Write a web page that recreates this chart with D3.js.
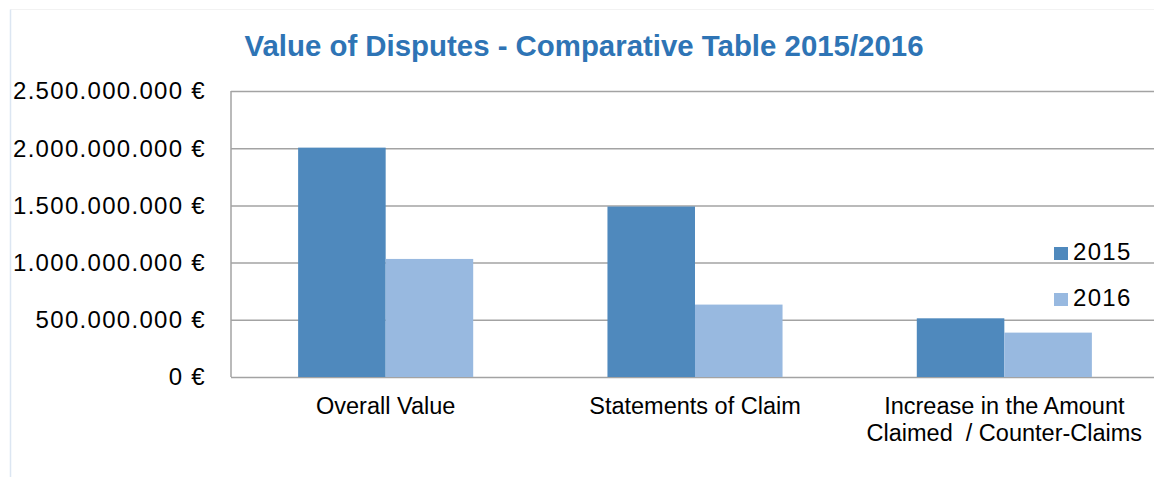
<!DOCTYPE html>
<html>
<head>
<meta charset="utf-8">
<script src="https://cdn.jsdelivr.net/npm/d3@7"></script>
<style>
  body { margin: 0; background: #fff; }
  svg { display: block; font-family: "Liberation Sans", Arial, sans-serif; }
</style>
</head>
<body>
<div id="chart"></div>
<script>
// chart data
const categories = ["Overall Value", "Statements of Claim", "Increase in the Amount\nClaimed  / Counter-Claims"];
const years = ["2015", "2016"];
const values2015 = [2005000000, 1490000000, 513000000];
const values2016 = [1032000000, 633000000, 388000000];
const yTicks = [0, 500000000, 1000000000, 1500000000, 2000000000, 2500000000];

const width = 1154, height = 477;
const colors = { "2015": "#4F89BD", "2016": "#98B9E0" };

const svg = d3.select("#chart").append("svg")
  .attr("width", width)
  .attr("height", height);

// faint chart frame
svg.append("line").attr("x1", 10.5).attr("x2", width).attr("y1", 9.5).attr("y2", 9.5)
  .attr("stroke", "#F2F2F2");
svg.append("line").attr("x1", 10.5).attr("x2", 10.5).attr("y1", 9.5).attr("y2", height)
  .attr("stroke", "#DCE6F2").attr("stroke-width", 1.5);

const plotLeft = 231, plotRight = 1159, plotTop = 91, plotBottom = 377;

const x = d3.scaleBand()
  .domain(categories)
  .range([plotLeft, plotRight])
  .paddingInner(0.434)
  .paddingOuter(0.217);

const xSub = d3.scaleBand()
  .domain(years)
  .range([0, x.bandwidth()]);

const y = d3.scaleLinear()
  .domain([0, 2500000000])
  .range([plotBottom, plotTop]);

const fmt = v => d3.format(",")(v).replace(/,/g, ".") + " €";

// gridlines + y labels
const yAxis = svg.append("g")
  .attr("transform", `translate(${plotLeft},0)`)
  .call(d3.axisLeft(y).tickValues(yTicks).tickSize(-(plotRight - plotLeft)).tickPadding(25).tickFormat(fmt));
yAxis.select(".domain").remove();
yAxis.selectAll(".tick line").attr("stroke", "#A3A3A3").attr("stroke-width", 1.5);
yAxis.selectAll(".tick text")
  .attr("fill", "#000")
  .style("font-size", "24px")
  .style("letter-spacing", "1.3px")
  .attr("dy", "0.33em");

// left axis line
svg.append("line")
  .attr("x1", plotLeft).attr("x2", plotLeft)
  .attr("y1", plotTop).attr("y2", plotBottom)
  .attr("stroke", "#A3A3A3").attr("stroke-width", 1.5);

// bars
const rows = categories.map((c, i) => ({ cat: c, "2015": values2015[i], "2016": values2016[i] }));
const groups = svg.append("g").selectAll("g")
  .data(rows)
  .join("g")
  .attr("transform", d => `translate(${x(d.cat)},0)`);

groups.selectAll("rect")
  .data(d => years.map(k => ({ key: k, value: d[k] })))
  .join("rect")
  .attr("x", d => xSub(d.key))
  .attr("y", d => y(d.value))
  .attr("width", xSub.bandwidth())
  .attr("height", d => y(0) - y(d.value))
  .attr("fill", d => colors[d.key]);

// x labels
const xLabels = svg.append("g").selectAll("text")
  .data(categories)
  .join("text")
  .attr("x", d => x(d) + x.bandwidth() / 2)
  .attr("y", 414)
  .attr("text-anchor", "middle")
  .style("font-size", "23.5px")
  .attr("fill", "#000");
xLabels.each(function (d) {
  const t = d3.select(this);
  d.split("\n").forEach((line, i) => {
    t.append("tspan")
      .attr("x", x(d) + x.bandwidth() / 2)
      .attr("dy", i === 0 ? 0 : 27)
      .style("white-space", "pre")
      .text(line);
  });
});

// title
svg.append("text")
  .attr("x", 584)
  .attr("y", 56)
  .attr("text-anchor", "middle")
  .style("font-size", "29.4px")
  .style("font-weight", "bold")
  .attr("fill", "#2E74B5")
  .text("Value of Disputes - Comparative Table 2015/2016");

// legend
const legend = svg.append("g").selectAll("g")
  .data(years)
  .join("g")
  .attr("transform", (d, i) => `translate(1054,${247 + i * 46})`);
legend.append("rect")
  .attr("width", 14).attr("height", 13)
  .attr("fill", d => colors[d]);
legend.append("text")
  .attr("x", 19).attr("y", 13)
  .style("font-size", "24px")
  .style("letter-spacing", "1.3px")
  .attr("fill", "#000")
  .text(d => d);
</script>
</body>
</html>
